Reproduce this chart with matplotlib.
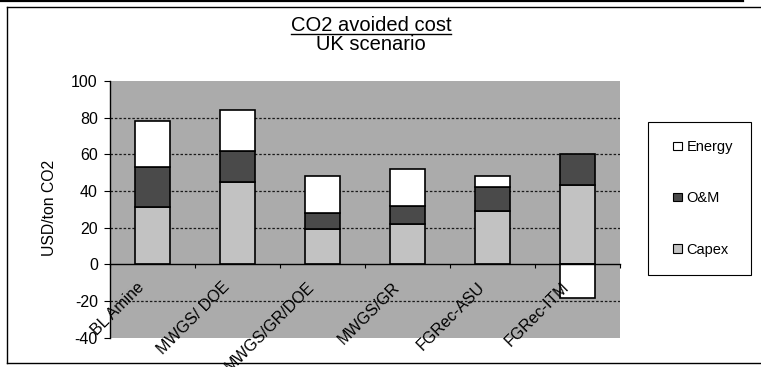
import numpy as np
import matplotlib
matplotlib.use("Agg")
import matplotlib.pyplot as plt
from matplotlib.patches import Rectangle
from matplotlib.lines import Line2D
from matplotlib.legend_handler import HandlerPatch

plt.rcParams['font.family'] = ['Liberation Sans', 'DejaVu Sans']

# Cost breakdown, USD per ton CO2 avoided
categories = ["BL Amine", "MWGS/ DOE", "MWGS/GR/DOE", "MWGS/GR", "FGRec-ASU", "FGRec-ITM"]
capex = [31, 45, 19, 22, 29, 43.5]
om = [22, 17, 9, 10, 13, 16.5]
energy = [25, 22, 20, 20, 6, -18.5]

y_ticks = [-40, -20, 0, 20, 40, 60, 80, 100]

W, H = 761, 367
fig = plt.figure(figsize=(W / 100, H / 100), dpi=100)
fig.patch.set_facecolor("white")

def fx(px):
    return px / W

def fy(py):
    return 1 - py / H

ax = fig.add_axes([fx(110), fy(337.6), fx(620) - fx(110), fy(81) - fy(337.6)])
ax.set_facecolor("#ababab")

x = np.arange(len(categories))
width = 0.41
capex_a = np.array(capex)
om_a = np.array(om)
energy_a = np.array(energy)

# positive parts stack upward from zero, negative parts hang below zero
pos_energy = np.where(energy_a > 0, energy_a, 0)
neg_energy = np.where(energy_a < 0, energy_a, 0)

b_capex = ax.bar(x, capex_a, width, color="#c2c2c2", edgecolor="black", linewidth=1.2,
                 label="Capex", zorder=3)
b_om = ax.bar(x, om_a, width, bottom=capex_a, color="#4a4a4a", edgecolor="black",
              linewidth=1.2, label="O&M", zorder=3)
b_en = ax.bar(x, pos_energy, width, bottom=capex_a + om_a, color="white",
              edgecolor="black", linewidth=1.2, label="Energy", zorder=3)
for xi, v in zip(x, neg_energy):
    if v < 0:
        ax.bar(xi, v, width, color="white", edgecolor="black", linewidth=1.2, zorder=3)
for xi, v in zip(x, pos_energy):
    if v == 0:
        b_en[xi].set_visible(False)

ax.set_xlim(-0.5, len(categories) - 0.5)
ax.set_ylim(-40, 100)
ax.set_yticks(y_ticks)
ax.set_yticklabels([str(t) for t in y_ticks], fontsize=11.5)
ax.tick_params(axis="y", direction="out", length=4.3, width=0.8, pad=4.5, colors="black")

# gridlines
for t in y_ticks:
    if t not in (-40, 0, 100):
        ax.axhline(t, color="#1a1a1a", linewidth=0.9, linestyle=(0, (2, 1.5)), zorder=1)

for s in ("top", "right"):
    ax.spines[s].set_visible(False)
ax.spines["left"].set_linewidth(1.0)
ax.spines["bottom"].set_position(("data", 0))
ax.spines["bottom"].set_linewidth(1.0)
ax.spines["bottom"].set_zorder(4)

ax.set_xticks(np.arange(len(categories) + 1) - 0.5)
ax.set_xticklabels([])
ax.tick_params(axis="x", direction="out", length=3, width=0.8)

for xi, name in zip(x, categories):
    ax.annotate(name, xy=(xi, 0), xytext=(-3.6, -11), textcoords="offset points",
                rotation=45, ha="right", va="top", fontsize=11.5, zorder=5)

# axis title
fig.text(fx(50), fy(207.5), "USD/ton CO2", rotation=90, ha="center", va="center",
         fontsize=11.3)

# chart titles
t1 = fig.text(fx(371), fy(31), "CO2 avoided cost", ha="center", va="baseline", fontsize=14.5)
fig.text(fx(371), fy(50), "UK scenario", ha="center", va="baseline", fontsize=14.5)
fig.canvas.draw()
bb = t1.get_window_extent(fig.canvas.get_renderer())
fig.add_artist(Line2D([bb.x0 / W, bb.x1 / W], [fy(33.5), fy(33.5)],
                      transform=fig.transFigure, color="black", linewidth=1.0))

# legend
class SmallSquare(HandlerPatch):
    def create_artists(self, legend, orig_handle, xdescent, ydescent, width, height,
                       fontsize, trans):
        s = 6.0
        p = Rectangle((width - s - xdescent, (height - s) / 2 - ydescent), s, s,
                      facecolor=orig_handle.get_facecolor(),
                      edgecolor=orig_handle.get_edgecolor(), linewidth=0.8,
                      transform=trans)
        return [p]

handles = [b_en[0], b_om[0], b_capex[0]]
labels = ["Energy", "O&M", "Capex"]
leg = fig.legend(handles, labels, loc="upper left",
                 bbox_to_anchor=(fx(648), fy(122)), bbox_transform=fig.transFigure,
                 fontsize=10.5, frameon=True, fancybox=False, edgecolor="black",
                 framealpha=1, borderpad=1.25, labelspacing=2.55, handlelength=1.05,
                 handletextpad=0.35, borderaxespad=0,
                 handler_map={Rectangle: SmallSquare()})
leg.get_frame().set_linewidth(0.8)

# chart frame and page rule
fig.add_artist(Line2D([fx(7), fx(7)], [fy(6.5), fy(363)], transform=fig.transFigure,
                      color="black", linewidth=1.0))
fig.add_artist(Line2D([fx(7), 1.0], [fy(6.5), fy(6.5)], transform=fig.transFigure,
                      color="black", linewidth=1.0))
fig.add_artist(Line2D([fx(7), 1.0], [fy(363), fy(363)], transform=fig.transFigure,
                      color="black", linewidth=1.0))
fig.add_artist(Line2D([0, fx(743)], [fy(0.8), fy(0.8)], transform=fig.transFigure,
                      color="black", linewidth=1.6))

fig.savefig("out.png", dpi=100)
